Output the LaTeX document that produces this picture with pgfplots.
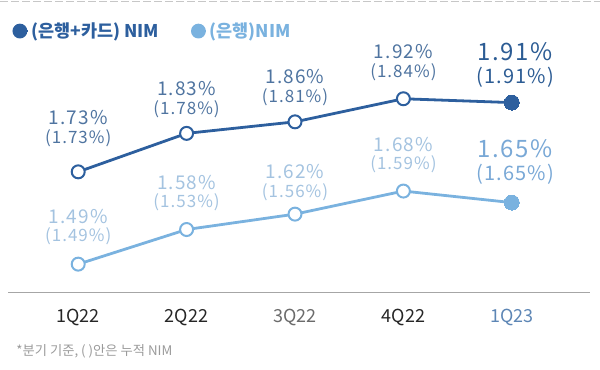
\documentclass[border=0pt]{standalone}
\usepackage{fontspec}
\setmainfont{Noto Sans CJK KR}
\newfontfamily\numfont{Noto Sans CJK KR}[LetterSpace=6]
\usepackage{pgfplots}
\pgfplotsset{compat=1.18}
\definecolor{dk}{HTML}{2D5F9E}
\definecolor{lt}{HTML}{7AB2DF}
\definecolor{dklab}{HTML}{4F74A0}
\definecolor{ltlab}{HTML}{A4C3E0}
\definecolor{dklast}{HTML}{2C5C94}
\definecolor{ltlast}{HTML}{79A8D6}
\definecolor{tickblue}{HTML}{5D86B5}
\definecolor{foot}{HTML}{9A9A9A}
\newcommand{\lab}[5]{%
  \node[font=#5, text=#4, inner sep=0pt] at ([yshift=#2pt]axis cs:#1,1.4157) {#3};%
}
\newcommand{\fa}{\numfont\fontsize{19}{21}\selectfont}
\newcommand{\fb}{\numfont\fontsize{17}{19}\selectfont}
\newcommand{\fA}{\numfont\fontsize{24}{26}\selectfont}
\newcommand{\fB}{\numfont\fontsize{20}{22}\selectfont}
\begin{document}
\begin{tikzpicture}
\begin{axis}[scale only axis,
  width=582pt, height=291pt,
  xmin=-0.645, xmax=4.719, ymin=1.4157, ymax=2.1716,
  axis x line*=bottom, axis y line=none,
  x axis line style={draw=none},
  xtick={0,1,2,3,4},
  xticklabels={{\color{black!85}1Q22},{\color{black!85}2Q22},{\color{black!58}3Q22},{\color{black!85}4Q22},{\color{tickblue}1Q23}},
  major tick length=0pt,
  xticklabel style={font=\fontsize{18}{20}\selectfont, anchor=center, yshift=-25pt},
  legend style={at={(0.0069,0.900)}, anchor=west, draw=none, fill=none,
    font=\bfseries\fontsize{17.5}{19}\selectfont, inner sep=0pt,
    /tikz/every even column/.append style={column sep=30pt}},
  legend columns=2,
  legend cell align=left,
  clip=false,
]
\path (rel axis cs:-0.013746,-0.264605) rectangle (rel axis cs:1.017182,1.006873);
\draw[black!22, dash pattern=on 8pt off 3pt, line width=0.6pt] (rel axis cs:-0.013746,1.0017) -- (rel axis cs:1.017182,1.0017);
\draw[black!35, line width=1.4pt] (rel axis cs:0,0) -- (rel axis cs:1,0);
\addplot[dk, line width=2.8pt, mark=*, mark size=6.5pt,
  mark options={fill=white, draw=dk, line width=2pt},
  legend image code/.code={\path (-6pt,0) -- (8pt,0); \fill[dk] (0pt,0) circle (6pt);}]
  coordinates {(0,1.73) (1,1.83) (2,1.86) (3,1.92) (4,1.91)};
\addlegendentry{\textcolor{dk}{(은행+카드) NIM}}
\addplot[lt, line width=2.8pt, mark=*, mark size=6.5pt,
  mark options={fill=white, draw=lt, line width=2pt},
  legend image code/.code={\path (-6pt,0) -- (8pt,0); \fill[lt] (0pt,0) circle (6pt);}]
  coordinates {(0,1.49) (1,1.58) (2,1.62) (3,1.68) (4,1.65)};
\addlegendentry{\textcolor{lt}{(은행)NIM}}
\addplot[only marks, mark=*, mark size=7.5pt, mark options={fill=dk, draw=dk, line width=0pt}, forget plot]
  coordinates {(4,1.91)};
\addplot[only marks, mark=*, mark size=7.5pt, mark options={fill=lt, draw=lt, line width=0pt}, forget plot]
  coordinates {(4,1.65)};
% dark labels
\lab{0}{175}{1.73\%}{dklab}{\fa}
\lab{0}{155}{(1.73\%)}{dklab}{\fb}
\lab{1}{204}{1.83\%}{dklab}{\fa}
\lab{1}{184}{(1.78\%)}{dklab}{\fb}
\lab{2}{216}{1.86\%}{dklab}{\fa}
\lab{2}{196}{(1.81\%)}{dklab}{\fb}
\lab{3}{241}{1.92\%}{dklab}{\fa}
\lab{3}{221}{(1.84\%)}{dklab}{\fb}
\lab{4.03}{241}{1.91\%}{dklast}{\fA}
\lab{4.03}{216}{(1.91\%)}{dklast}{\fB}
% light labels
\lab{0}{76}{1.49\%}{ltlab}{\fa}
\lab{0}{57}{(1.49\%)}{ltlab}{\fb}
\lab{1}{110}{1.58\%}{ltlab}{\fa}
\lab{1}{91}{(1.53\%)}{ltlab}{\fb}
\lab{2}{121}{1.62\%}{ltlab}{\fa}
\lab{2}{101}{(1.56\%)}{ltlab}{\fb}
\lab{3}{148}{1.68\%}{ltlab}{\fa}
\lab{3}{129}{(1.59\%)}{ltlab}{\fb}
\lab{4.03}{144}{1.65\%}{ltlast}{\fA}
\lab{4.03}{119}{(1.65\%)}{ltlast}{\fB}
\node[anchor=west, inner sep=0pt, text=foot, font=\fontsize{13.3}{15}\selectfont] at (rel axis cs:0.01375,-0.2027) {*분기 기준, ( )안은 누적 NIM};
\end{axis}
\end{tikzpicture}
\end{document}
